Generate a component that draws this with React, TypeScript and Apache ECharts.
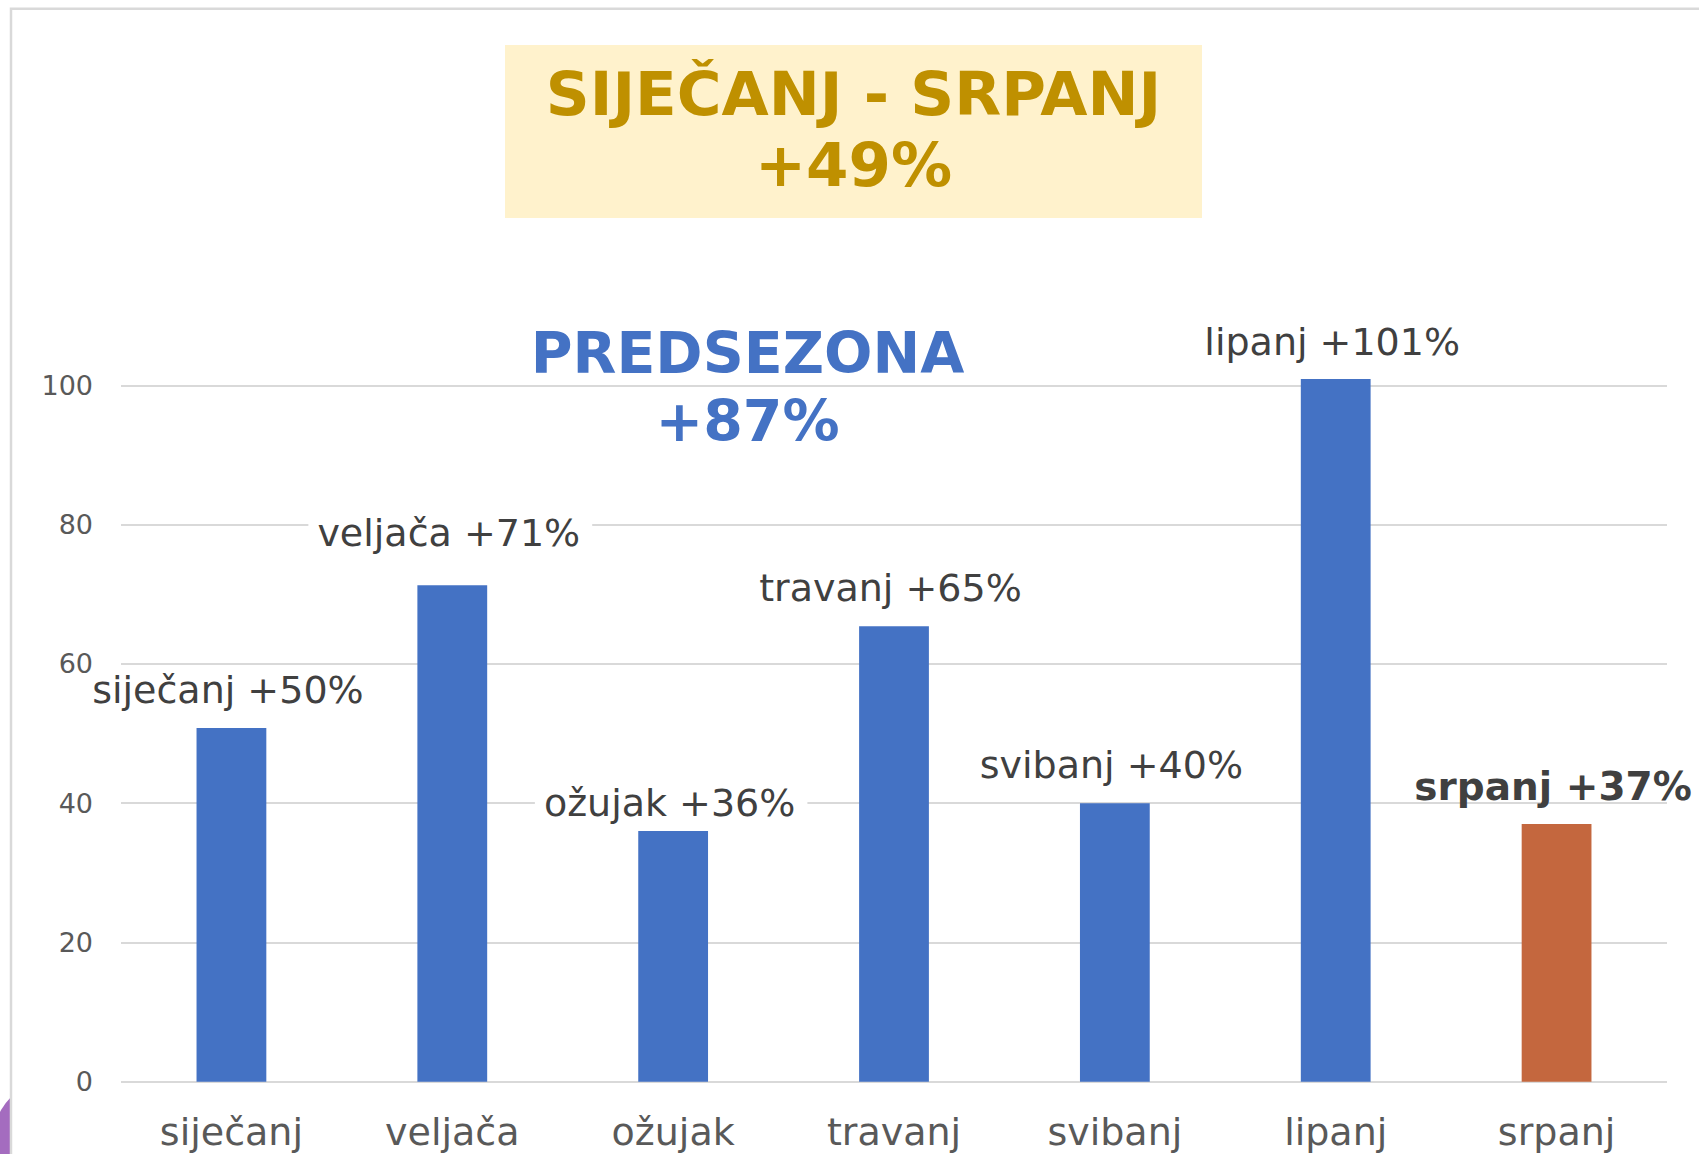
import React, { useEffect, useRef } from "react";
import * as echarts from "echarts";

const categories = ["siječanj", "veljača", "ožujak", "travanj", "svibanj", "lipanj", "srpanj"];
const values = [50.8, 71.3, 36.0, 65.4, 40.0, 100.9, 37.0];
const labelTexts = [
  "siječanj +50%",
  "veljača +71%",
  "ožujak +36%",
  "travanj +65%",
  "svibanj +40%",
  "lipanj +101%",
  "srpanj +37%",
];
const highlighted = [false, false, false, false, false, false, true];
const labelNudgeY = [0, -14, 10, 0, 0, 1, 0];
const labelBackdrop = [false, true, true, false, false, false, false];

const yMin = 0;
const yMax = 100;
const yInterval = 20;

const titleLines = ["SIJEČANJ - SRPANJ", "+49%"];
const subtitleLines = ["PREDSEZONA", "+87%"];

const FONT = '"DejaVu Sans", Verdana, sans-serif';
const BLUE = "#4472c4";
const ORANGE = "#c4673e";

export default function App() {
  const ref = useRef<HTMLDivElement>(null);

  useEffect(() => {
    if (!ref.current) return;
    const chart = echarts.init(ref.current, null, { renderer: "svg" });

    const data = values.map((v, i) => {
      const hi = highlighted[i];
      return {
        value: v,
        itemStyle: { color: hi ? ORANGE : BLUE },
        label: {
          offset: [-2, labelNudgeY[i]],
          fontWeight: hi ? "bold" : "normal",
          fontSize: hi ? 39 : 38,
          backgroundColor: labelBackdrop[i] ? "#ffffff" : "transparent",
        },
      };
    });

    chart.setOption({
      animation: false,
      textStyle: { fontFamily: FONT },
      grid: { left: 121, top: 385.3, width: 1546, height: 696.4, containLabel: false },
      xAxis: {
        type: "category",
        data: categories,
        axisLine: { show: false },
        axisTick: { show: false },
        axisLabel: {
          fontSize: 38,
          lineHeight: 38,
          color: "#595959",
          margin: 31,
          fontFamily: FONT,
        },
      },
      yAxis: {
        type: "value",
        min: yMin,
        max: yMax,
        interval: yInterval,
        axisLine: { show: false },
        axisTick: { show: false },
        splitLine: { lineStyle: { color: "#d9d9d9", width: 2 } },
        axisLabel: { fontSize: 27, color: "#595959", margin: 28, fontFamily: FONT },
      },
      series: [
        {
          type: "bar",
          data,
          barWidth: "31.6%",
          clip: false,
          label: {
            show: true,
            position: "top",
            distance: 17,
            formatter: (p: any) => labelTexts[p.dataIndex],
            fontSize: 38,
            lineHeight: 38,
            color: "#404040",
            fontFamily: FONT,
            padding: [2, 12, 2, 9],
          },
        },
      ],
      graphic: [
        {
          type: "circle",
          z: -20,
          shape: { cx: 53, cy: 1140, r: 60 },
          style: { fill: "#a46cbf" },
          silent: true,
        },
        {
          type: "rect",
          z: -10,
          shape: { x: 11, y: 8.75, width: 1800, height: 1300 },
          style: { fill: "#ffffff", stroke: "#d9d9d9", lineWidth: 2.5 },
          silent: true,
        },
        {
          type: "rect",
          z: 5,
          shape: { x: 505, y: 45, width: 697, height: 173 },
          style: { fill: "#fff2cc" },
          silent: true,
        },
        {
          type: "text",
          z: 6,
          x: 853.5,
          y: 128.5,
          style: {
            text: titleLines.join("\n"),
            fill: "#bf9000",
            fontSize: 61,
            fontWeight: "bold",
            fontFamily: FONT,
            align: "center",
            verticalAlign: "middle",
            lineHeight: 71,
          },
          silent: true,
        },
        {
          type: "text",
          z: 6,
          x: 747.5,
          y: 387,
          style: {
            text: subtitleLines.join("\n"),
            fill: BLUE,
            fontSize: 57,
            fontWeight: "bold",
            fontFamily: FONT,
            align: "center",
            verticalAlign: "middle",
            lineHeight: 68,
          },
          silent: true,
        },
      ],
    });

    return () => chart.dispose();
  }, []);

  return (
    <div
      ref={ref}
      style={{ position: "absolute", left: 0, top: 0, width: 1699, height: 1154, background: "#ffffff" }}
    />
  );
}
